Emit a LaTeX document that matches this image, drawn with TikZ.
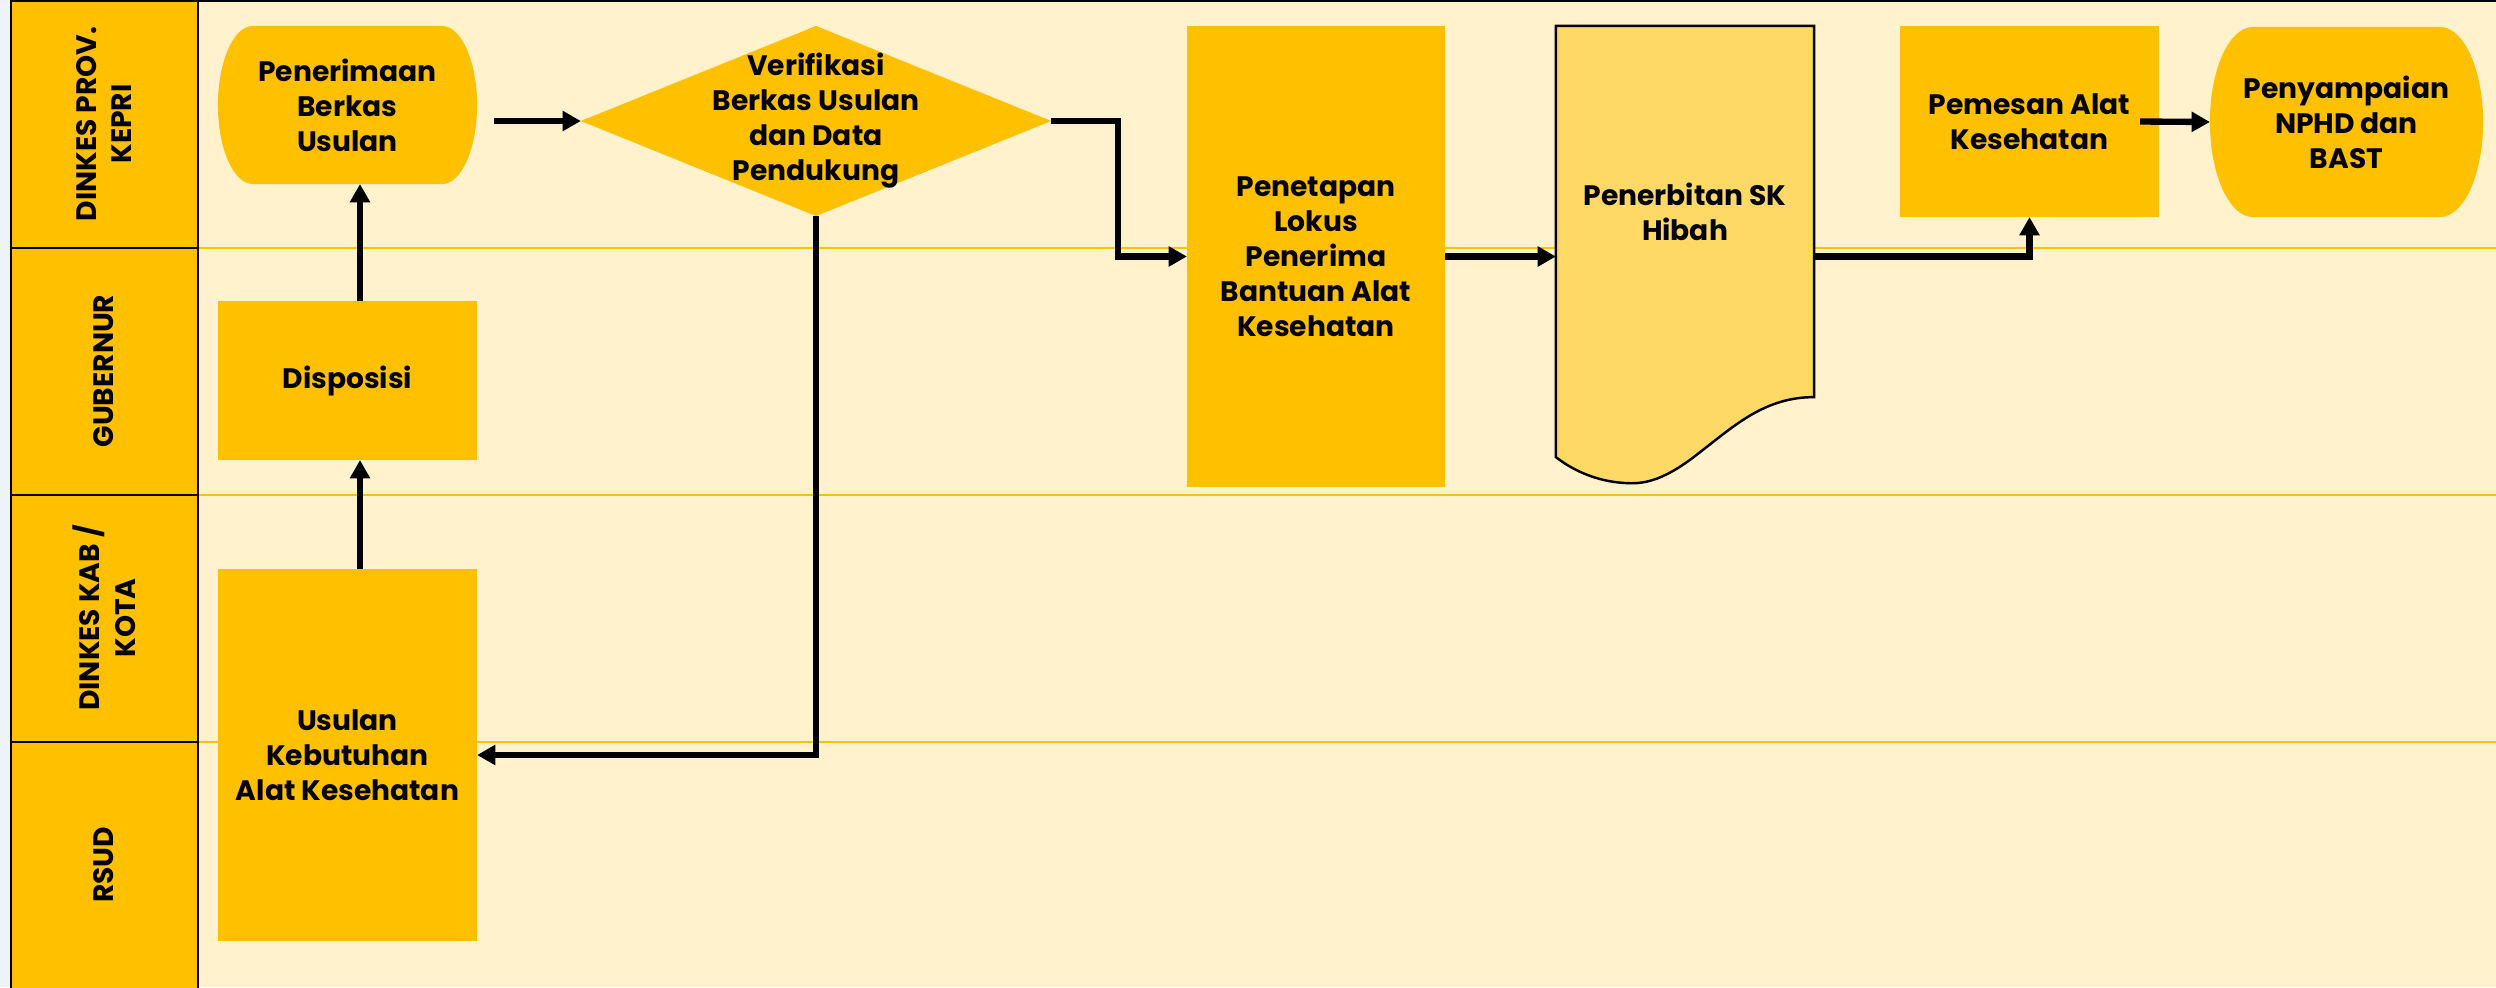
\documentclass[tikz,border=0pt]{standalone}
\usepackage{fontspec}
\setmainfont{Poppins}
\usetikzlibrary{arrows.meta,shapes.geometric,calc}
\definecolor{gold}{HTML}{FFC000}
\definecolor{lightgold}{HTML}{FFD966}
\definecolor{cream}{HTML}{FFF2CC}
\definecolor{stripc}{HTML}{EEF3F8}
\pgfdeclarelayer{bg}\pgfdeclarelayer{mid}
\pgfsetlayers{bg,mid,main}
\begin{document}
\begin{tikzpicture}[x=0.01cm,y=-0.01cm,
  every node/.style={inner sep=0pt,outer sep=0pt},
  nodefont/.style={font=\fontsize{8}{9.96}\selectfont\bfseries},
  box/.style={nodefont,fill=gold,align=center},
  term/.style 2 args={nodefont,align=center,
    path picture={\fill[gold] ([xshift=#1]path picture bounding box.north west) -- ([xshift=-#1]path picture bounding box.north east) arc[start angle=90,end angle=-90,x radius=#1,y radius=#2] -- ([xshift=#1]path picture bounding box.south west) arc[start angle=270,end angle=90,x radius=#1,y radius=#2] -- cycle;}},
  arr/.style={line width=1.8pt,-{Triangle[length=5.2pt,width=5.5pt]}},
  hdrtxt/.style={font=\fontsize{8}{10.2}\selectfont\bfseries,align=center,rotate=90},
  lanesep/.style={draw=gold,line width=0.8pt},
  hdrcell/.style={fill=gold,draw=black,line width=0.7pt},
  docshape/.style={fill=lightgold,draw=black,line width=0.7pt},
]
\useasboundingbox (0,0) rectangle (2496,987);
\begin{pgfonlayer}{bg}
  \fill[white] (0,0) rectangle (2496,987);
  \fill[stripc] (0,0) rectangle (10,987);
  \fill[cream] (198,0) rectangle (2496,987);
  \draw[lanesep] (198,248) -- (2496,248);
  \draw[lanesep] (198,495) -- (2496,495);
  \draw[lanesep] (198,742) -- (2496,742);
  \draw[hdrcell] (11,1) rectangle (198,248);
  \draw[hdrcell] (11,248) rectangle (198,495);
  \draw[hdrcell] (11,495) rectangle (198,742);
  \draw[hdrcell] (11,742) rectangle (198,995);
  \draw[line width=0.7pt] (10,1) -- (2496,1);
\end{pgfonlayer}

% lane titles
\node[hdrtxt] (t1) at (104,124) {DINKES PROV.\\KEPRI};
\node[hdrtxt] (t2) at (104,371) {GUBERNUR};
\node[hdrtxt] (t3) at (104,618) {DINKES KAB /\\KOTA};
\node[hdrtxt] (t4) at (104,865) {RSUD};

% nodes
\node[term={0.35cm}{0.79cm},minimum width=2.59cm,minimum height=1.58cm] (pen) at (347.5,105) {Penerimaan\\Berkas\\Usulan};
\node[box,minimum width=2.59cm,minimum height=1.59cm] (disp) at (347.5,380.5) {Disposisi};
\node[box,minimum width=2.59cm,minimum height=3.72cm] (usul) at (347.5,755) {Usulan\\Kebutuhan\\Alat Kesehatan};
\node[diamond,fill=gold,minimum width=4.7cm,minimum height=1.9cm,
  label={[nodefont,align=center]center:{Verifikasi\\Berkas Usulan\\dan Data\\Pendukung}}] (dia) at (816,121) {};
\node[box,minimum width=2.58cm,minimum height=4.61cm] (penet) at (1316,256.5) {Penetapan\\Lokus\\Penerima\\Bantuan Alat\\Kesehatan};
\node[nodefont,align=center,minimum width=2.58cm,minimum height=3.71cm] (doc) at (1685,211.5) {Penerbitan SK\\Hibah};
\node[box,minimum width=2.59cm,minimum height=1.91cm] (pem) at (2029.5,121.5) {Pemesan Alat\\Kesehatan};
\node[term={0.43cm}{0.95cm},minimum width=2.73cm,minimum height=1.9cm] (penya) at (2346.5,122) {Penyampaian\\NPHD dan\\BAST};

\begin{pgfonlayer}{mid}
  \path[docshape] (doc.north west) -- (doc.north east) -- (doc.south east)
    .. controls ($(doc.south east)+(-49,0)$) and ($(doc.south east)+(-79,28)$) .. ($(doc.south east)+(-114,55)$)
    .. controls ($(doc.south east)+(-149,83)$) and ($(doc.south east)+(-169,87)$) .. ($(doc.south east)+(-187,86)$)
    .. controls ($(doc.south east)+(-214,85)$) and ($(doc.south east)+(-239,75)$) .. ($(doc.south west)+(0,60)$)
    -- cycle;
\end{pgfonlayer}

% connectors
\draw[arr] ($(usul.north)+(12.5,0)$) -- ($(disp.south)+(12.5,0)$);
\draw[arr] ($(disp.north)+(12.5,0)$) -- ($(pen.south)+(12.5,0)$);
\draw[arr] ($(pen.east |- dia.west)+(17,0)$) -- (dia.west);
\draw[arr] (dia.east) -- ++(67,0) |- (penet.west);
\draw[arr] (dia.south) |- (usul.east);
\draw[arr] (penet.east) -- (penet.east -| doc.west);
\draw[arr] (penet.east -| doc.east) -| (pem.south);
\draw[arr] ($(pem.east)+(-19,0)$) -- (penya.west);
\end{tikzpicture}
\end{document}
